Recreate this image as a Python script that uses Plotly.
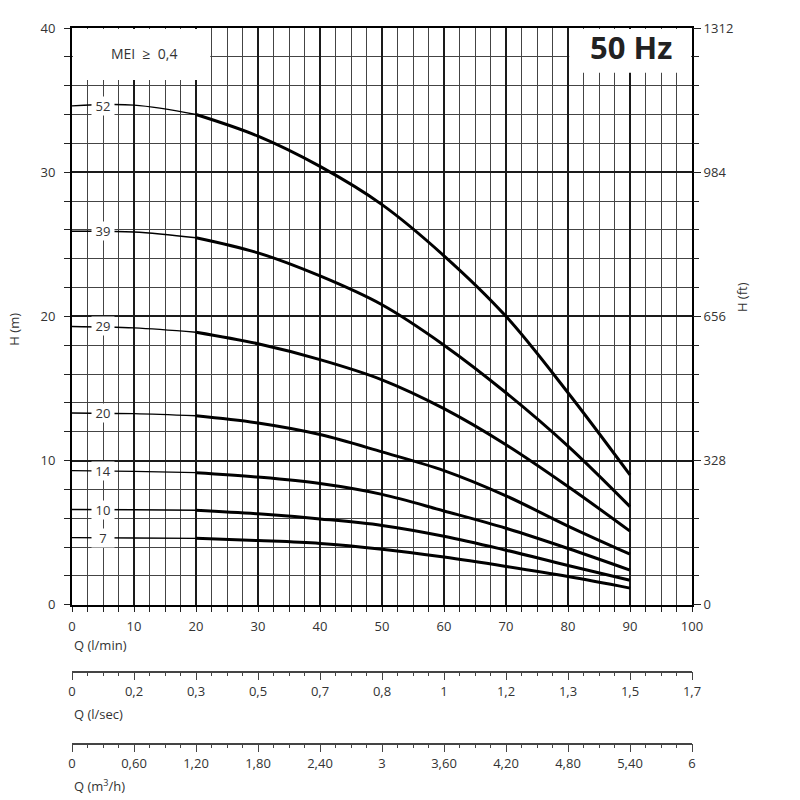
import plotly.graph_objects as go

# Flow in l/min where the curves were read
q_lpm = [0, 10, 20, 30, 40, 50, 60, 70, 80, 90]

# Head (m) for each stage count
stages = ['52', '39', '29', '20', '14', '10', '7']
h_52 = [34.6, 34.65, 34.0, 32.5, 30.4, 27.75, 24.2, 20.0, 14.7, 9.0]
h_39 = [25.9, 25.85, 25.45, 24.4, 22.8, 20.8, 18.0, 14.7, 11.0, 6.8]
h_29 = [19.3, 19.2, 18.9, 18.1, 17.0, 15.6, 13.6, 11.1, 8.2, 5.1]
h_20 = [13.3, 13.25, 13.1, 12.6, 11.8, 10.6, 9.3, 7.55, 5.45, 3.5]
h_14 = [9.3, 9.25, 9.16, 8.85, 8.4, 7.65, 6.5, 5.3, 3.9, 2.4]
h_10 = [6.6, 6.58, 6.55, 6.3, 5.95, 5.5, 4.75, 3.78, 2.72, 1.7]
h_7 = [4.65, 4.63, 4.6, 4.45, 4.25, 3.85, 3.3, 2.65, 1.95, 1.15]
heads = [h_52, h_39, h_29, h_20, h_14, h_10, h_7]

# Tick labels of the axes
q_ticks = [0, 10, 20, 30, 40, 50, 60, 70, 80, 90, 100]
lps_labels = ['0', '0,2', '0,3', '0,5', '0,7', '0,8', '1', '1,2', '1,3', '1,5', '1,7']
m3h_labels = ['0', '0,60', '1,20', '1,80', '2,40', '3', '3,60', '4,20', '4,80', '5,40', '6']
h_ticks = [0, 10, 20, 30, 40]
ft_labels = ['0', '328', '656', '984', '1312']

font_name = 'Open Sans'
text_color = '#333333'

fig = go.Figure()

for name, h in zip(stages, heads):
    # thin start of the curve up to 20 l/min, thick afterwards
    fig.add_trace(go.Scatter(x=q_lpm[:3], y=h[:3], mode='lines', line=dict(color='black', width=1.4, shape='spline'),
                             showlegend=False, hoverinfo='skip'))
    fig.add_trace(go.Scatter(x=q_lpm[2:], y=h[2:], mode='lines', line=dict(color='black', width=3, shape='spline'),
                             showlegend=False, name=name))
    fig.add_annotation(x=5, y=h[0], text=name, showarrow=False, bgcolor='white', borderpad=0,
                       font=dict(family=font_name, size=13, color=text_color), width=22)

# dummy traces so the extra axes get drawn
fig.add_trace(go.Scatter(x=[0, 100], y=[None, None], xaxis='x2', yaxis='y', showlegend=False, hoverinfo='skip'))
fig.add_trace(go.Scatter(x=[0, 100], y=[None, None], xaxis='x3', yaxis='y', showlegend=False, hoverinfo='skip'))
fig.add_trace(go.Scatter(x=[None, None], y=[0, 40], xaxis='x', yaxis='y2', showlegend=False, hoverinfo='skip'))

main_bottom = 0.2412
tick_font = dict(family=font_name, size=13, color=text_color)

# the page body adds 8px, margins are shifted to make up for it
fig.update_layout(
    width=800, height=800,
    margin=dict(l=64, r=116, t=11, b=18),
    plot_bgcolor='white', paper_bgcolor='white',
    font=tick_font,
    xaxis=dict(range=[0, 100], domain=[0, 1], tickvals=q_ticks, ticks='outside', ticklen=5, tickcolor='#222',
               ticklabelstandoff=4,
               showline=True, linecolor='black', linewidth=2, mirror=True,
               showgrid=True, gridcolor='#1a1a1a', gridwidth=1.7, zeroline=False,
               minor=dict(tickmode='linear', tick0=0, dtick=2.5, ticks='outside', ticklen=5, tickcolor='#222',
                          showgrid=True, gridcolor='#444', gridwidth=1.1)),
    yaxis=dict(range=[0, 40], domain=[main_bottom, 1], tickvals=h_ticks, ticks='outside', ticklen=6, tickcolor='#222',
               ticklabelstandoff=6,
               showline=True, linecolor='black', linewidth=2, mirror=True,
               showgrid=True, gridcolor='#1a1a1a', gridwidth=1.7, zeroline=False,
               minor=dict(tickmode='linear', tick0=0, dtick=2, ticks='outside', ticklen=6, tickcolor='#222',
                          showgrid=True, gridcolor='#444', gridwidth=1.1)),
    yaxis2=dict(range=[0, 40], overlaying='y', side='right', anchor='x', tickvals=h_ticks, ticktext=ft_labels,
                ticks='outside', ticklen=8, tickcolor='#222', showgrid=False, zeroline=False,
                minor=dict(tickmode='linear', tick0=0, dtick=2, ticks='outside', ticklen=6, tickcolor='#222')),
    xaxis2=dict(range=[0, 100], overlaying='x', anchor='free', position=0.1530, side='bottom',
                tickvals=q_ticks, ticktext=lps_labels, ticks='outside', ticklen=8, tickcolor='#444',
                showline=True, linecolor='#444', linewidth=1.5, showgrid=False, zeroline=False,
                minor=dict(tickmode='linear', tick0=0, dtick=2.5, ticks='outside', ticklen=4, tickcolor='#444')),
    xaxis3=dict(range=[0, 100], overlaying='x', anchor='free', position=0.0584, side='bottom',
                tickvals=q_ticks, ticktext=m3h_labels, ticks='outside', ticklen=8, tickcolor='#444',
                showline=True, linecolor='#444', linewidth=1.5, showgrid=False, zeroline=False,
                minor=dict(tickmode='linear', tick0=0, dtick=2.5, ticks='outside', ticklen=4, tickcolor='#444')),
)

# white boxes for the MEI note and the frequency badge
fig.add_shape(type='rect', xref='x', yref='y', x0=0.15, x1=22.3, y0=36.4, y1=39.93,
              fillcolor='white', line_width=0, layer='between')
fig.add_shape(type='rect', xref='x', yref='y', x0=80.2, x1=99.85, y0=36.9, y1=39.93,
              fillcolor='white', line_width=0, layer='between')

fig.add_annotation(x=11.6, y=38.2, xref='x', yref='y', text='MEI&nbsp; ≥&nbsp; 0,4', showarrow=False,
                   font=dict(family=font_name, size=14, color=text_color))
fig.add_annotation(x=90.2, y=38.7, xref='x', yref='y', text='<b>50 Hz</b>', showarrow=False,
                   font=dict(family=font_name, size=31, color='#222'))

# axis titles, placed by screen pixel (centre of the text)
titles = [(14, 325, 'H (m)', -90, 'center'),
          (72, 645, 'Q (l/min)', 0, 'left'),
          (72, 715, 'Q (l/sec)', 0, 'left'),
          (72, 787, 'Q (m<sup>3</sup>/h)', 0, 'left'),
          (742, 292, 'H (ft)', -90, 'center')]

plot_w = 800 - 64 - 116
plot_h = 800 - 11 - 18
for px, py, txt, angle, anchor in titles:
    fig.add_annotation(x=(px - 72) / plot_w, y=(790 - py) / plot_h, xref='paper', yref='paper', text=txt,
                       showarrow=False, textangle=angle, xanchor=anchor, yanchor='middle', font=tick_font)

fig.write_html('out.html')
